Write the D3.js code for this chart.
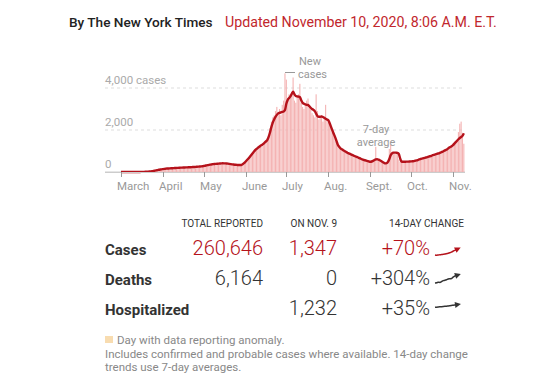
<!DOCTYPE html>
<html><head><meta charset="utf-8">
<script src="https://cdn.jsdelivr.net/npm/d3@7"></script>
<style>
html,body{margin:0;padding:0;background:#fff;}
svg{display:block;}
text{font-family:Roboto,"Liberation Sans",Arial,sans-serif;}
</style></head>
<body><svg id="c" width="550" height="383"></svg>
<script>
// ---- data ----
const startDate = "2020-03-01";
const dailyCases = [
 0,0,0,0,0,0,0,0,0,1, 1,2,3,2,4,5,6,9,12,18, 20,25,35,48,60,70,85,100,120,130, 140,
 150,135,170,190,160,150,200, 180,210,190,175,205,230,195, 200,230,215,240,210,195,235, 250,220,245,260,230,240,265, 270,280,
 300,290,330,310,350,360,380, 390,370,400,410,380,395,420, 430,400,440,410,390,380,370, 360,350,340,330,345,320,310, 340,380,460,
 520,600,680,700,820,900,980, 1050,1100,1180,1250,1300,1200,1350, 1450,1500,1600,1750,2100,2400,2600, 2700,2900,3100,2800,3000,2700,3200, 3400,4700,
 4400,3500,3700,3600,3800,4500,3400, 3300,3600,3700,4200,3300,3100,3000, 3200,3400,3500,3100,3000,2800,2700, 2600,3700,2900,2500,2600,2700,2400, 2600,3200,2500,
 2400,2300,2100,1900,1800,1600,1400, 1300,1200,1150,1100,1050,1000,980, 950,900,870,850,830,780,760, 740,700,680,650,620,600,580, 560,540,520,
 500,480,550,600,1200,650,560, 540,500,450,420,400,430,550, 1100,1300,900,950,880,900,870, 600,480,470,500,490,480,500, 510,520,
 520,500,540,560,580,600,620, 640,660,650,700,720,730,760, 780,800,830,850,870,880,900, 930,960,1000,1020,1060,1100,1130, 1180,1220,1260,
 1300,1350,1400,1500,1900,2300,2400,1800,1347
];
const avgCases = [
 0,0,0,0,0,0,0,0,0,0, 1,1,2,2,3,4,5,7,9,12, 16,22,30,40,52,65,78,92,105,118, 128,
 140,150,158,165,170,174,178,182,186,190, 194,198,202,206,210,213,216,219,222,225, 228,232,236,240,244,249,254,260,266,272,
 286,298,312,326,340,352,364,375,382,388, 394,400,405,410,414,413,410,404,396,386, 376,366,356,348,342,336,334,333,345,380,430,
 500,570,640,720,800,880,960,1040,1100,1150, 1200,1250,1290,1340,1400,1460,1530,1680,1900,2150, 2350,2500,2620,2720,2790,2820,2840,2860,2880,2950,
 3250,3430,3520,3600,3720,3820,3700,3620,3600,3590, 3560,3420,3300,3250,3220,3200,3190,3130,3060,3000, 2960,2900,2780,2660,2630,2630,2640,2620,2580,2540, 2500,
 2460,2320,2150,1980,1820,1660,1480,1300,1200,1130, 1080,1040,1000,960,920,890,860,830,800,770, 740,720,690,660,630,600,580,560,540,520, 500,
 490,500,530,570,600,610,590,560,520,480, 440,410,420,480,620,800,890,920,925,920, 910,860,650,500,490,490,490,495,495,500,
 505,510,520,535,550,570,600,620,640,655, 670,690,710,730,750,770,800,820,840,860, 880,900,930,960,990,1030,1060,1100,1150,1190, 1230,
 1280,1350,1420,1490,1560,1620,1670,1720,1840
];
const yTicks = [0, 2000, 4000];
const yTickLabels = ["0", "2,000", "4,000 cases"];
const monthTicks = ["2020-03-01","2020-04-01","2020-05-01","2020-06-01","2020-07-01","2020-08-01","2020-09-01","2020-10-01","2020-11-01"];
const monthLabels = ["March","April","May","June","July","Aug.","Sept.","Oct.","Nov."];
const tableHeaders = ["TOTAL REPORTED","ON NOV. 9","14-DAY CHANGE"];
const rowNames = ["Cases","Deaths","Hospitalized"];
const totals = ["260,646","6,164",""];
const onDay = ["1,347","0","1,232"];
const change = ["+70%","+304%","+35%"];
const sparkCases = [1.00,0.98,1.00,1.03,1.05,1.08,1.10,1.15,1.20,1.26,1.33,1.42,1.52,1.62,1.70];
const sparkDeaths = [1.0,1.1,1.3,1.2,1.5,1.9,2.0,2.2,2.5,2.6,2.7,3.2,3.6,3.9,4.04];
const sparkHosp = [1.0,1.02,1.04,1.06,1.08,1.10,1.12,1.14,1.17,1.20,1.23,1.26,1.29,1.32,1.35];

// ---- drawing ----
const svg = d3.select("#c");
const parse = d3.timeParse("%Y-%m-%d");
const t0 = parse(startDate);
const dates = dailyCases.map((_, i) => d3.timeDay.offset(t0, i));

const x = d3.scaleTime().domain([parse("2020-03-01"), parse("2020-11-01")]).range([121, 453]);
const y = d3.scaleLinear().domain([0, 4000]).range([172, 88]);

// header
svg.append("text").attr("x", 69).attr("y", 27).attr("font-size", 13.6).attr("font-weight", 500)
  .attr("fill", "#222").text("By The New York Times");
svg.append("text").attr("x", 225).attr("y", 27).attr("font-size", 14.2)
  .attr("fill", "#c1272d").text("Updated November 10, 2020, 8:06 A.M. E.T.");

// gridlines
const g = svg.append("g");
yTicks.forEach((v, i) => {
  g.append("line").attr("x1", 105).attr("x2", 465).attr("y1", y(v)).attr("y2", y(v))
    .attr("stroke", v === 0 ? "#ccc" : "#ddd").attr("stroke-width", 1)
    .attr("stroke-dasharray", v === 0 ? null : "3,3");
  g.append("text").attr("x", 105).attr("y", y(v) - 4).attr("font-size", 11.5)
    .attr("fill", "#aaa").text(yTickLabels[i]);
});

// bars
const bw = 1.1;
svg.append("g").selectAll("rect").data(dailyCases).join("rect")
  .attr("x", (d, i) => x(dates[i]) - bw / 2)
  .attr("width", bw)
  .attr("y", d => y(d))
  .attr("height", d => y(0) - y(d))
  .attr("fill", "#f4b3b3");

// line
const line = d3.line().x((d, i) => x(dates[i])).y(d => y(d)).curve(d3.curveMonotoneX);
svg.append("path").datum(avgCases).attr("d", line).attr("fill", "none")
  .attr("stroke", "#b5121b").attr("stroke-width", 2.4).attr("stroke-linejoin", "round");

// baseline and month ticks
svg.append("line").attr("x1", 105).attr("x2", 465).attr("y1", y(0) + 0.5).attr("y2", y(0) + 0.5)
  .attr("stroke", "#ccc");
monthTicks.forEach((m, i) => {
  const xx = Math.round(x(parse(m))) + 0.5;
  svg.append("line").attr("x1", xx).attr("x2", xx).attr("y1", 172).attr("y2", 177)
    .attr("stroke", "#999");
  svg.append("text").attr("x", xx - 4.5).attr("y", 190).attr("font-size", 11.5)
    .attr("fill", "#999").text(monthLabels[i]);
});

// annotations
svg.append("line").attr("x1", 285).attr("x2", 295).attr("y1", 72.5).attr("y2", 72.5).attr("stroke", "#999");
svg.append("text").attr("x", 299).attr("y", 65).attr("font-size", 11).attr("fill", "#999").text("New");
svg.append("text").attr("x", 298).attr("y", 77.5).attr("font-size", 11).attr("fill", "#999").text("cases");
svg.append("text").attr("x", 376).attr("y", 133).attr("font-size", 11).attr("fill", "#999")
  .attr("text-anchor", "middle").text("7-day");
svg.append("text").attr("x", 376).attr("y", 145.5).attr("font-size", 11).attr("fill", "#999")
  .attr("text-anchor", "middle").text("average");

// table
const colX = [263, 337, 464];
tableHeaders.forEach((h, i) => {
  svg.append("text").attr("x", colX[i]).attr("y", 227).attr("text-anchor", "end")
    .attr("font-size", 10).attr("fill", "#333").text(h);
});
const rowY = [255, 285, 315];
const colors = ["#b5121b", "#333", "#333"];
rowNames.forEach((r, i) => {
  svg.append("text").attr("x", 105).attr("y", rowY[i]).attr("font-size", 15).attr("font-weight", 700)
    .attr("fill", "#333").text(r);
  svg.append("text").attr("x", 263).attr("y", rowY[i]).attr("text-anchor", "end").attr("font-size", 20)
    .attr("font-weight", 300).attr("fill", colors[i]).text(totals[i]);
  svg.append("text").attr("x", 337).attr("y", rowY[i]).attr("text-anchor", "end").attr("font-size", 20)
    .attr("font-weight", 300).attr("fill", colors[i]).text(onDay[i]);
  svg.append("text").attr("x", 430).attr("y", rowY[i]).attr("text-anchor", "end").attr("font-size", 20)
    .attr("font-weight", 300).attr("fill", colors[i]).text(change[i]);
});

// sparklines
function spark(data, cy, color, ext) {
  const sx = d3.scaleLinear().domain([0, data.length - 1]).range([435, 458]);
  const sy = d3.scaleLinear().domain(ext).range([cy + 4, cy - 4]);
  const l = d3.line().x((d, i) => sx(i)).y(d => sy(d)).curve(d3.curveMonotoneX);
  svg.append("path").datum(data).attr("d", l).attr("fill", "none").attr("stroke", color).attr("stroke-width", 1.5);
  const n = data.length - 1;
  const x1 = sx(n), y1 = sy(data[n]), x0 = sx(n - 2), y0 = sy(data[n - 2]);
  const ang = Math.atan2(y1 - y0, x1 - x0);
  const L = 6, W = 3;
  const tip = [x1 + Math.cos(ang) * 3, y1 + Math.sin(ang) * 3];
  const b = [tip[0] - Math.cos(ang) * L, tip[1] - Math.sin(ang) * L];
  const p1 = [b[0] + Math.sin(ang) * W, b[1] - Math.cos(ang) * W];
  const p2 = [b[0] - Math.sin(ang) * W, b[1] + Math.cos(ang) * W];
  svg.append("path").attr("d", `M${tip}L${p1}L${p2}Z`).attr("fill", color);
}
spark(sparkCases, 251, "#b5121b", [1.0, 1.9]);
spark(sparkDeaths, 279, "#333", [1.0, 4.0]);
spark(sparkHosp, 306.5, "#333", [0.6, 1.6]);

// footer
svg.append("rect").attr("x", 105).attr("y", 336).attr("width", 8).attr("height", 7).attr("fill", "#f8dcb0");
svg.append("text").attr("x", 117).attr("y", 343.5).attr("font-size", 11.5).attr("fill", "#888")
  .text("Day with data reporting anomaly.");
svg.append("text").attr("x", 105).attr("y", 357.5).attr("font-size", 11.5).attr("fill", "#888")
  .text("Includes confirmed and probable cases where available. 14-day change");
svg.append("text").attr("x", 105).attr("y", 370.5).attr("font-size", 11.5).attr("fill", "#888")
  .text("trends use 7-day averages.");
</script></body></html>
